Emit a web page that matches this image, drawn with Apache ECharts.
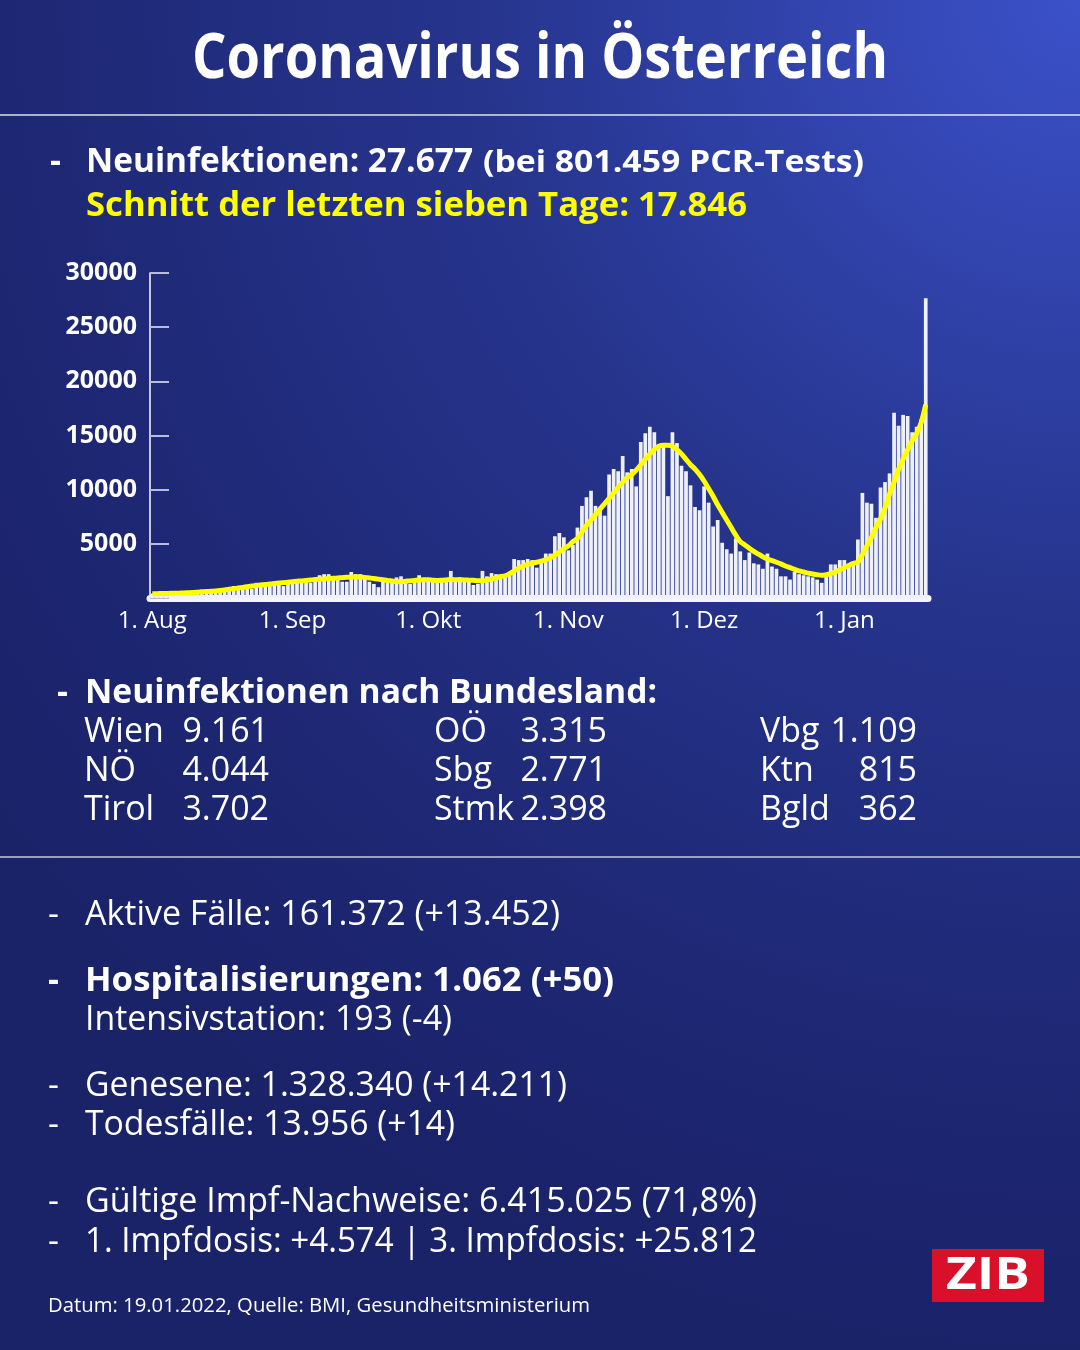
<!DOCTYPE html>
<html>
<head>
<meta charset="utf-8">
<script src="https://cdn.jsdelivr.net/npm/echarts@6/dist/echarts.min.js"></script>
<style>
html,body{margin:0;padding:0;background:#1c256f;}
#c{width:1080px;height:1350px;}
</style>
</head>
<body>
<div id="c"></div>
<script>
// ---- DATA ----
const startDate = [2021, 7, 1]; // 1 Aug 2021
const monthTickIndex = [0, 31, 61, 92, 122, 153];
const monthTickLabels = ['1. Aug', '1. Sep', '1. Okt', '1. Nov', '1. Dez', '1. Jan'];
const yTicks = [5000, 10000, 15000, 20000, 25000, 30000];

const dailyCases = [
  420, 390, 460, 560, 600, 570, 560, 520, 480, 700, 650, 780, 720, 680, 660, 560, 900,
  1000, 1100, 1050, 1100, 1000, 850, 1400, 1350, 1400, 1300, 1350, 1200, 1100, 1650,
  1600, 1550, 1450, 1550, 1400, 1600, 2100, 2200, 2200, 1900, 1700, 1500, 1500, 2400,
  2200, 2200, 1900, 1500, 1300, 1000, 1800, 1700, 1600, 1900, 2000, 1400, 1300, 1700, 2100, 1800,
  1500, 1600, 1550, 1700, 1800, 2500, 1800, 1900, 1500, 1500, 1200, 1300, 2500, 2000, 2300,
  2200, 2000, 2000, 2400, 3600, 3500, 3500, 3600, 3500, 2800, 3600, 4100, 4100, 5700, 6000, 5600,
  4400, 4900, 6500, 8500, 9300, 9900, 8500, 8200, 7600, 11400, 11900, 11700, 13100, 11600, 11900,
  10300, 14400, 15200, 15800, 15300, 14200, 14000, 9400, 15300, 14300, 12200, 11700, 10400, 8400, 8100,
  10300, 8800, 6600, 7200, 5100, 4500, 4100, 5500, 4300, 3500, 4200, 3200, 3100, 2700, 4100,
  2900, 2700, 2000, 2000, 1700, 2400, 2200, 2100, 2000, 1900, 1700, 1400, 2200, 3100, 3100, 3500,
  3500, 3100, 3200, 5400, 9700, 8800, 8700, 7400, 10200, 10700, 11500, 17100, 15900, 16900, 16800,
  15300, 15800, 16500, 27677
];

const sevenDayAvg = [
  400, 400, 410, 420, 430, 440, 450, 460,
  480, 500, 530, 560, 590, 620, 650, 690, 740,
  800, 860, 920, 980, 1040, 1100, 1150, 1200,
  1250, 1290, 1330, 1380, 1420, 1460, 1500,
  1540, 1580, 1620, 1660, 1700, 1730, 1760, 1790, 1820,
  1850, 1880, 1910, 1930, 1950, 1940, 1900, 1850,
  1800, 1740, 1680, 1620, 1570, 1520, 1500,
  1540, 1580, 1620, 1660, 1690, 1680, 1650,
  1620, 1640, 1670, 1700, 1690, 1680, 1670, 1650,
  1630, 1600, 1600, 1650, 1750, 1850, 1980,
  2050, 2250, 2500, 2750, 2950, 3100, 3200,
  3300, 3400, 3550, 3700, 3950, 4250, 4550,
  4800, 5200, 5500, 6100, 6700, 7200, 7700,
  8200, 8700, 9200, 9700, 10200, 10700, 11100,
  11400, 11800, 12300, 12800, 13300, 13700, 14000,
  14100, 14100, 14000, 13700, 13300, 12800, 12300,
  11900, 11400, 10800, 10100, 9400, 8600, 7900,
  7200, 6500, 5800, 5200, 4900, 4600, 4300,
  4050, 3800, 3600, 3450, 3300, 3150, 2950,
  2800, 2650, 2500, 2400, 2300, 2220, 2150,
  2100, 2150, 2250, 2400, 2600, 2800, 3000, 3200,
  3300, 4000, 4800, 5600, 6500, 7300, 8300, 9600,
  10700, 11900, 12800, 13700, 14500, 15200, 16200, 17846
];

// categories: one per day
const categories = dailyCases.map((_, i) => {
  const d = new Date(startDate[0], startDate[1], startDate[2] + i);
  return d.getDate() + '.' + (d.getMonth() + 1) + '.';
});

// ---- LAYOUT HELPERS ----
const FONT = '"Open Sans", "Noto Sans", sans-serif';
const mctx = document.createElement('canvas').getContext('2d');
function measure(text, size, weight) {
  mctx.font = weight + ' ' + size + 'px ' + FONT;
  return mctx.measureText(text).width;
}
const DY = 2;
function txt(text, x, y, size, weight, color, targetW, align) {
  const w = measure(text, size, weight);
  const sx = targetW ? targetW / w : 1;
  const a = align || 'left';
  return {
    type: 'text', x: x, y: y + DY, scaleX: sx, scaleY: 1, z: 10,
    style: {
      text: text, fill: color, fontSize: size, fontWeight: weight, fontFamily: FONT,
      textAlign: a, textVerticalAlign: 'middle', align: a, verticalAlign: 'middle'
    }
  };
}
const W = '#ffffff', Y = '#ffff00';
const bodyScale = 475 / measure('Aktive Fälle: 161.372 (+13.452)', 35, 'normal');
function body(text, x, y, align, targetW) {
  const e = txt(text, x, y, 35, 'normal', W, targetW || null, align);
  if (!targetW) e.scaleX = bodyScale;
  return e;
}

const graphics = [
  txt('Coronavirus in Österreich', 192, 58, 62, 'bold', W, 696),
  { type: 'line', shape: { x1: 0, y1: 115, x2: 1080, y2: 115 }, style: { stroke: 'rgba(255,255,255,0.85)', lineWidth: 1.5 } },
  txt('-', 50, 160, 34, 'bold', W),
  txt('Neuinfektionen: 27.677', 86, 160, 34, 'bold', W, 387),
  txt('(bei 801.459 PCR-Tests)', 483, 161, 30, 'bold', W, 381),
  txt('Schnitt der letzten sieben Tage: 17.846', 86, 204, 34, 'bold', Y, 661),

  txt('-', 57, 691, 34, 'bold', W),
  txt('Neuinfektionen nach Bundesland:', 85, 691, 34, 'bold', W, 572),
  body('Wien', 84, 730), body('9.161', 269, 730, 'right'),
  body('NÖ', 84, 769), body('4.044', 269, 769, 'right'),
  body('Tirol', 84, 808), body('3.702', 269, 808, 'right'),
  body('OÖ', 434, 730), body('3.315', 607, 730, 'right'),
  body('Sbg', 434, 769), body('2.771', 607, 769, 'right'),
  body('Stmk', 434, 808, 'left', 80), body('2.398', 607, 808, 'right'),
  body('Vbg', 760, 730), body('1.109', 917, 730, 'right'),
  body('Ktn', 760, 769), body('815', 917, 769, 'right'),
  body('Bgld', 760, 808), body('362', 917, 808, 'right'),
  { type: 'line', shape: { x1: 0, y1: 857, x2: 1080, y2: 857 }, style: { stroke: 'rgba(255,255,255,0.75)', lineWidth: 1.5 } },

  body('-', 48, 913), body('Aktive Fälle: 161.372 (+13.452)', 85, 913),
  txt('-', 48, 979, 34, 'bold', W), txt('Hospitalisierungen: 1.062 (+50)', 85, 979, 34, 'bold', W, 529),
  body('Intensivstation: 193 (-4)', 85, 1018, 'left', 367),
  body('-', 48, 1084), body('Genesene: 1.328.340 (+14.211)', 85, 1084, 'left', 482),
  body('-', 48, 1123), body('Todesfälle: 13.956 (+14)', 85, 1123, 'left', 370),
  body('-', 48, 1200), body('Gültige Impf-Nachweise: 6.415.025 (71,8%)', 85, 1200, 'left', 672),
  body('-', 48, 1240), body('1. Impfdosis: +4.574 | 3. Impfdosis: +25.812', 85, 1240, 'left', 672),
  txt('Datum: 19.01.2022, Quelle: BMI, Gesundheitsministerium', 48, 1304, 20, 'normal', W, 542),

  { type: 'rect', shape: { x: 932, y: 1249, width: 112, height: 53 }, style: { fill: '#d9102a' }, z: 10 },
  txt('ZIB', 988, 1274, 44, 'bold', W, 84, 'center')
];

const chart = echarts.init(document.getElementById('c'), null, { renderer: 'canvas', width: 1080, height: 1350 });
chart.setOption({
  animation: false,
  backgroundColor: {
    type: 'radial', x: 1, y: 0, r: 1.25,
    colorStops: [
      { offset: 0, color: '#3b51c9' },
      { offset: 0.45, color: '#26348c' },
      { offset: 0.8, color: '#1d2773' },
      { offset: 1, color: '#1a2268' }
    ]
  },
  graphic: graphics,
  grid: { left: 150, right: 152, top: 273, bottom: 752, containLabel: false },
  xAxis: {
    type: 'category',
    data: categories,
    boundaryGap: true,
    axisLine: { show: true, lineStyle: { color: '#f4f5fc', width: 7 } },
    axisTick: { show: false },
    axisLabel: {
      color: '#ffffff', fontSize: 24, fontFamily: FONT, fontWeight: 500, margin: 11,
      interval: (idx) => monthTickIndex.indexOf(idx) >= 0,
      formatter: (v, idx) => {
        const k = monthTickIndex.indexOf(idx);
        return k >= 0 ? monthTickLabels[k] : '';
      }
    }
  },
  yAxis: {
    type: 'value', min: 0, max: yTicks[yTicks.length - 1], interval: yTicks[0],
    axisLine: { show: true, lineStyle: { color: '#ffffff', width: 1.5 } },
    axisTick: { show: true, inside: true, length: 19, lineStyle: { color: '#b8bde0', width: 2 } },
    splitLine: { show: false },
    axisLabel: {
      color: '#ffffff', fontSize: 25, fontWeight: 'bold', fontFamily: FONT, margin: 13,
      formatter: (v) => (yTicks.indexOf(v) >= 0 ? String(v) : '')
    }
  },
  series: [
    {
      type: 'bar', data: dailyCases, barCategoryGap: '18%',
      itemStyle: { color: '#eef0fb' }, z: 2
    },
    {
      type: 'line', data: sevenDayAvg, symbol: 'none', smooth: 0.3,
      lineStyle: { color: '#ffff00', width: 5 }, z: 3
    }
  ]
});
</script>
</body>
</html>
